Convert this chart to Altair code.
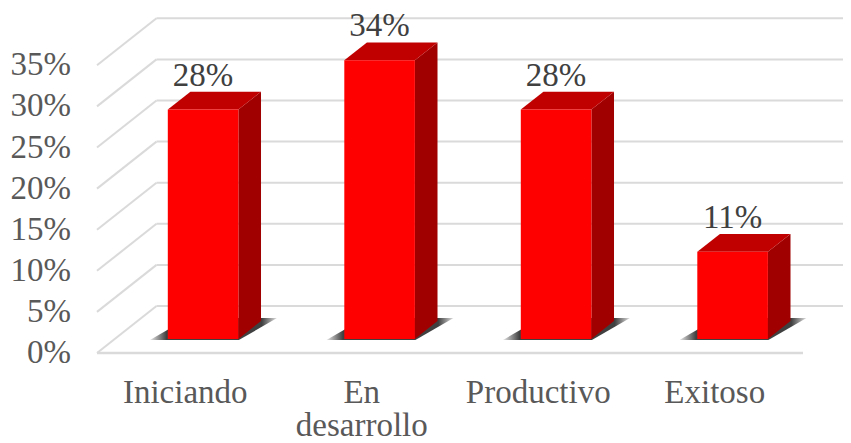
import altair as alt
import pandas as pd

categories = ["Iniciando", "En\ndesarrollo", "Productivo", "Exitoso"]
values = [27.9, 33.9, 27.9, 10.6]
y_ticks = [0, 5, 10, 15, 20, 25, 30, 35]

# image-pixel calibration of the two scales
W, H = 835, 435
PX_X0, PX_PER_SLOT = 97.0, 176.5
PX_Y0, PX_PER_PCT = 353.0, 8.22
x_domain = [(8 - PX_X0) / PX_PER_SLOT, (8 + W - PX_X0) / PX_PER_SLOT]
y_domain = [(PX_Y0 - 8 - H) / PX_PER_PCT, (PX_Y0 - 8) / PX_PER_PCT]

# oblique projection: a depth of 0..1 shifts by these data amounts
DX = 59.5 / PX_PER_SLOT
DY = 47.0 / PX_PER_PCT
D_FRONT, D_BACK = 0.30, 0.68
HALF = 0.2

xs = alt.Scale(domain=x_domain, nice=False, zero=False)
ys = alt.Scale(domain=y_domain, nice=False, zero=False)
X = lambda f="x": alt.X(f"{f}:Q", scale=xs, axis=None)
X2 = alt.X2("x2:Q")
Y = lambda f="y": alt.Y(f"{f}:Q", scale=ys, axis=None)
Y2 = alt.Y2("y2:Q")

GRID = "#dadada"
FONT = "Liberation Serif"
n = len(categories)

back = pd.DataFrame([{"x": DX, "x2": n + DX, "y": t + DY} for t in y_ticks])
front_line = pd.DataFrame([{"x": 0, "x2": n, "y": 0}])
diag = pd.concat([pd.DataFrame({"x": [0, DX], "y": [t, t + DY], "id": [t, t]}) for t in y_ticks])
tick_labels = pd.DataFrame([{"x": (71 - PX_X0) / PX_PER_SLOT, "y": t, "t": f"{t}%"} for t in y_ticks])

layers = [
    alt.Chart(back).mark_rule(color=GRID, strokeWidth=2, clip=True).encode(x=X(), x2=X2, y=Y()),
    alt.Chart(front_line).mark_rule(color=GRID, strokeWidth=2.5).encode(x=X(), x2=X2, y=Y()),
    alt.Chart(diag).mark_line(color=GRID, strokeWidth=2).encode(x=X(), y=Y(), detail="id:N"),
    alt.Chart(tick_labels).mark_text(
        font=FONT, fontSize=33, color="#595959", baseline="middle", align="right"
    ).encode(x=X(), y=Y(), text="t:N"),
]

shadow_rows, side_rows, top_rows, front_rows, label_rows, cat_rows = [], [], [], [], [], []
for i, (c, v) in enumerate(zip(categories, values)):
    cx = i + 0.5
    shadow_rows += [
        {"id": i, "y": 1.58, "x": i + 0.30, "x2": i + 0.804},
        {"id": i, "y": 4.26, "x": i + 0.516, "x2": i + 1.02},
    ]
    L, R = cx - HALF, cx + HALF
    side_rows += [
        {"id": i, "x": R + D_FRONT * DX, "y": D_FRONT * DY, "y2": v + D_FRONT * DY},
        {"id": i, "x": R + D_BACK * DX, "y": D_BACK * DY, "y2": v + D_BACK * DY},
    ]
    top_rows += [
        {"id": i, "y": v + D_FRONT * DY, "x": L + D_FRONT * DX, "x2": R + D_FRONT * DX},
        {"id": i, "y": v + D_BACK * DY, "x": L + D_BACK * DX, "x2": R + D_BACK * DX},
    ]
    front_rows.append({"x": L + D_FRONT * DX, "x2": R + D_FRONT * DX,
                       "y": D_FRONT * DY, "y2": v + D_FRONT * DY})
    label_rows.append({"x": cx + D_FRONT * DX, "y": v + D_FRONT * DY + 24 / PX_PER_PCT,
                       "t": f"{round(v)}%"})
    cat_rows.append({"x": cx, "y": -50 / PX_PER_PCT, "t": c})

shadow_fill = alt.Gradient(
    gradient="linear", x1=0, y1=0, x2=1, y2=0,
    stops=[
        alt.GradientStop(color="#e8e8e8", offset=0),
        alt.GradientStop(color="#404040", offset=0.13),
        alt.GradientStop(color="#404040", offset=0.88),
        alt.GradientStop(color="#e0e0e0", offset=1),
    ],
)

layers += [
    alt.Chart(pd.DataFrame(shadow_rows)).mark_area(orient="horizontal", color=shadow_fill).encode(
        y=Y(), x=X(), x2=X2, detail="id:N"),
    alt.Chart(pd.DataFrame(side_rows)).mark_area(orient="vertical", color="#a00000").encode(
        x=X(), y=Y(), y2=Y2, detail="id:N"),
    alt.Chart(pd.DataFrame(top_rows)).mark_area(orient="horizontal", color="#c00000").encode(
        y=Y(), x=X(), x2=X2, detail="id:N"),
    alt.Chart(pd.DataFrame(front_rows)).mark_rect(color="#ff0000").encode(
        x=X(), x2=X2, y=Y(), y2=Y2),
    alt.Chart(pd.DataFrame(label_rows)).mark_text(
        font=FONT, fontSize=33, color="#404040", baseline="alphabetic", align="center"
    ).encode(x=X(), y=Y(), text="t:N"),
    alt.Chart(pd.DataFrame(cat_rows)).mark_text(
        font=FONT, fontSize=33, color="#595959", baseline="alphabetic", align="center",
        lineBreak="\n", lineHeight=33,
    ).encode(x=X(), y=Y(), text="t:N"),
]

chart = alt.layer(*layers).properties(
    width=W, height=H, padding=0, autosize=alt.AutoSizeParams(type="none")
).configure_view(stroke=None)

chart.save("out.html", embed_options={"renderer": "svg", "actions": False})
